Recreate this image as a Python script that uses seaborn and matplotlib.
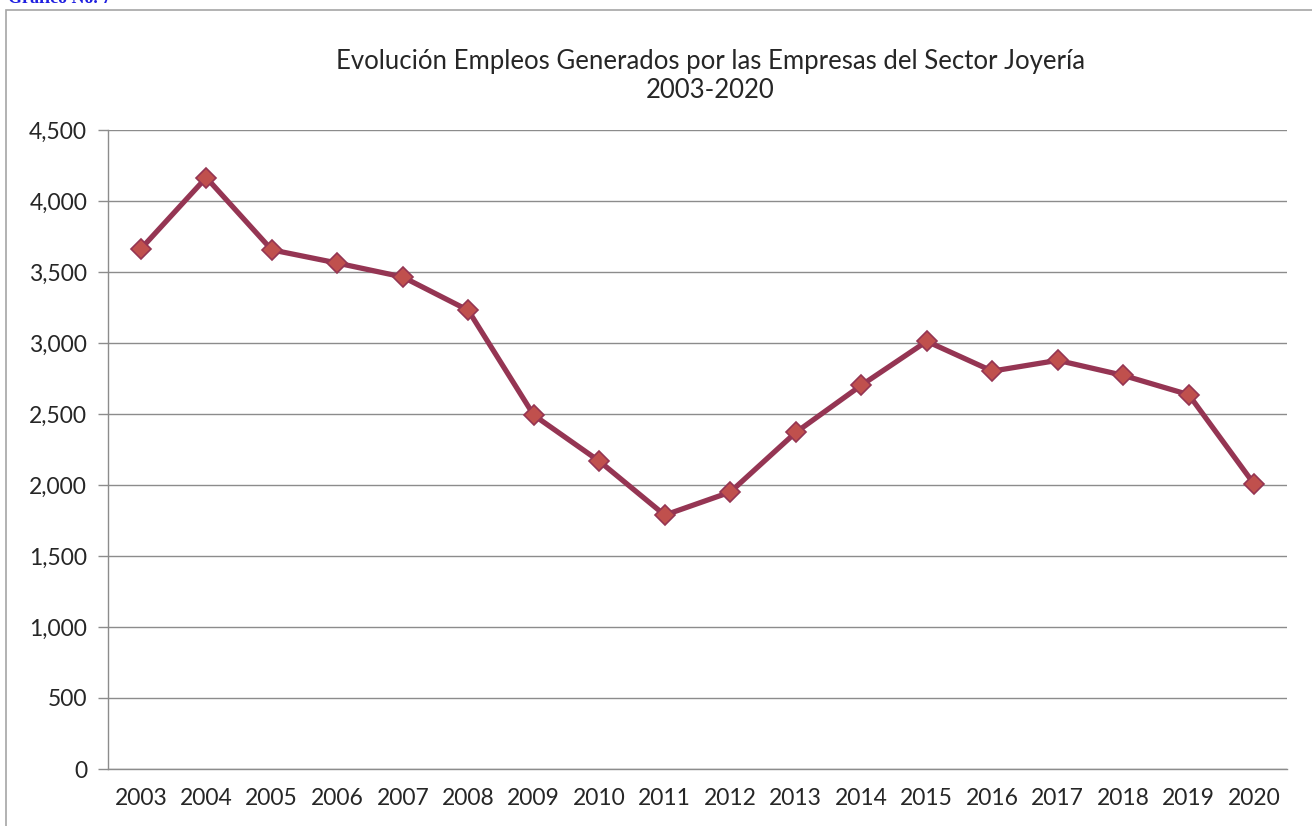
import matplotlib
matplotlib.use("Agg")
import matplotlib.pyplot as plt
import pandas as pd
import seaborn as sns
from matplotlib.ticker import FuncFormatter, MultipleLocator, FixedLocator

years = [2003, 2004, 2005, 2006, 2007, 2008, 2009, 2010, 2011,
         2012, 2013, 2014, 2015, 2016, 2017, 2018, 2019, 2020]
empleos = [3662, 4165, 3656, 3563, 3465, 3230, 2492, 2168, 1788,
           1950, 2370, 2702, 3012, 2802, 2878, 2772, 2636, 2005]

TITLE = "Evolución Empleos Generados por las Empresas del Sector Joyería\n2003-2020"


def run():
    sns.set_style("white")
    plt.rcParams["font.family"] = ["Lato", "DejaVu Sans"]

    df = pd.DataFrame({"anio": years, "empleos": empleos})

    fig = plt.figure(figsize=(13.12, 8.26), dpi=100)
    ax = fig.add_axes([108 / 1312, 1 - 769 / 826, (1287 - 108) / 1312, (769 - 130) / 826])

    # marco del gráfico y rótulo cortado arriba
    fig.patches.append(plt.Rectangle((6 / 1312, -0.1), 1.2, 1.0 - 10 / 826 + 0.1,
                                     transform=fig.transFigure, fill=False,
                                     edgecolor="#a6a6a6", linewidth=1.2))
    fig.text(8 / 1312, 1 - 3 / 826, "Gráfico No. 7", color="#1f1fe0",
             fontsize=13, fontweight="bold", family="Liberation Serif", va="baseline")

    sns.lineplot(data=df, x="anio", y="empleos", ax=ax, color="#953553",
                 linewidth=3.8, marker="D", markersize=10.5,
                 markerfacecolor="#c0504d", markeredgecolor="#953553",
                 markeredgewidth=1.2)

    ax.set_xlim(2002.5, 2020.5)
    ax.set_ylim(0, 4500)
    ax.yaxis.set_major_locator(MultipleLocator(500))
    ax.yaxis.set_major_formatter(FuncFormatter(lambda v, p: f"{int(v):,}"))
    ax.grid(axis="y", color="#8c8c8c", linewidth=1)
    ax.set_axisbelow(True)

    ax.set_xticks(years)
    ax.set_xticklabels([str(y) for y in years])
    ax.xaxis.set_minor_locator(FixedLocator([y + 0.5 for y in [2002] + years]))
    ax.tick_params(axis="x", which="major", length=0, pad=14, labelsize=16.5)
    ax.tick_params(axis="x", which="minor", length=7, color="#8c8c8c", width=1, direction="out")
    ax.tick_params(axis="y", length=7, color="#8c8c8c", width=1, direction="out",
                   pad=8, labelsize=16.5, left=True)

    for s in ["top", "right"]:
        ax.spines[s].set_visible(False)
    for s in ["left", "bottom"]:
        ax.spines[s].set_color("#8c8c8c")
        ax.spines[s].set_linewidth(1)

    ax.set_xlabel("")
    ax.set_ylabel("")
    fig.text(710 / 1312, 1 - 76 / 826, TITLE, ha="center", va="center",
             fontsize=18.5, linespacing=1.25)

    fig.savefig("out.png", dpi=100)
    plt.close(fig)


if __name__ == "__main__":
    run()
